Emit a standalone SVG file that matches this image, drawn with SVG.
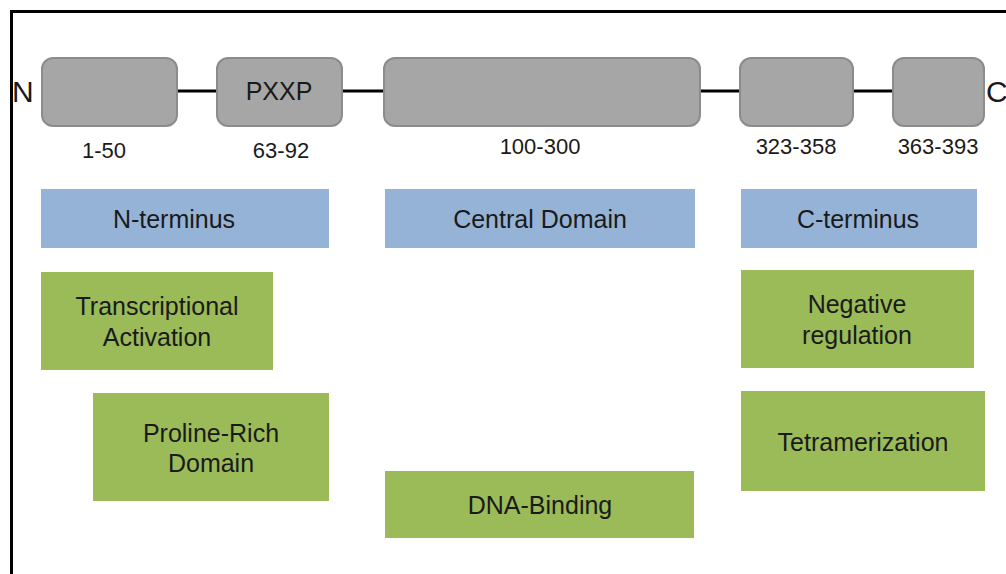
<svg xmlns="http://www.w3.org/2000/svg" width="1006" height="574" viewBox="0 0 1006 574">
<style>
.dom{fill:#a6a6a6;stroke:#8c8c8c;stroke-width:2}
.blue{fill:#95b3d7}
.green{fill:#9bbb59}
text{font-family:"Liberation Sans",Arial,sans-serif;fill:#1a1a1a;text-anchor:middle}
.lbl{font-size:25px}
.num{font-size:22px}
.end{font-size:30px;text-anchor:start}
</style>
<rect x="0" y="0" width="1006" height="574" fill="#ffffff"/>
<path d="M11.5,574 V11.5 H1006" fill="none" stroke="#000" stroke-width="3"/>
<g id="connectors" stroke="#000" stroke-width="3">
<line x1="177" y1="91" x2="217" y2="91"/>
<line x1="342" y1="91" x2="383" y2="91"/>
<line x1="700" y1="91" x2="739" y2="91"/>
<line x1="853" y1="91" x2="893" y2="91"/>
</g>
<g id="n-label"><text class="end" x="12" y="102">N</text></g>
<g id="c-label"><text class="end" x="986" y="102">C</text></g>
<g id="d1"><rect class="dom" x="42" y="58" width="135" height="68" rx="11"/><text class="num" x="104" y="158">1-50</text></g>
<g id="d2"><rect class="dom" x="217" y="58" width="125" height="68" rx="11"/><text class="lbl" x="279" y="100">PXXP</text><text class="num" x="281" y="158">63-92</text></g>
<g id="d3"><rect class="dom" x="384" y="58" width="316" height="68" rx="11"/><text class="num" x="540" y="154">100-300</text></g>
<g id="d4"><rect class="dom" x="740" y="58" width="113" height="68" rx="11"/><text class="num" x="796" y="154">323-358</text></g>
<g id="d5"><rect class="dom" x="893" y="58" width="91" height="68" rx="11"/><text class="num" x="938" y="154">363-393</text></g>
<g id="nterm"><rect class="blue" x="41" y="189" width="288" height="59"/><text class="lbl" x="174" y="228">N-terminus</text></g>
<g id="central"><rect class="blue" x="385" y="189" width="310" height="59"/><text class="lbl" x="540" y="228">Central Domain</text></g>
<g id="cterm"><rect class="blue" x="741" y="189" width="236" height="59"/><text class="lbl" x="858" y="228">C-terminus</text></g>
<g id="transact"><rect class="green" x="41" y="272" width="232" height="98"/><text class="lbl" x="157" y="315">Transcriptional</text><text class="lbl" x="157" y="346">Activation</text></g>
<g id="proline"><rect class="green" x="93" y="393" width="236" height="108"/><text class="lbl" x="211" y="442">Proline-Rich</text><text class="lbl" x="211" y="472">Domain</text></g>
<g id="dna"><rect class="green" x="385" y="471" width="309" height="67"/><text class="lbl" x="540" y="514">DNA-Binding</text></g>
<g id="negreg"><rect class="green" x="741" y="270" width="233" height="98"/><text class="lbl" x="857" y="313">Negative</text><text class="lbl" x="857" y="344">regulation</text></g>
<g id="tetra"><rect class="green" x="741" y="391" width="244" height="100"/><text class="lbl" x="863" y="451">Tetramerization</text></g>
</svg>
